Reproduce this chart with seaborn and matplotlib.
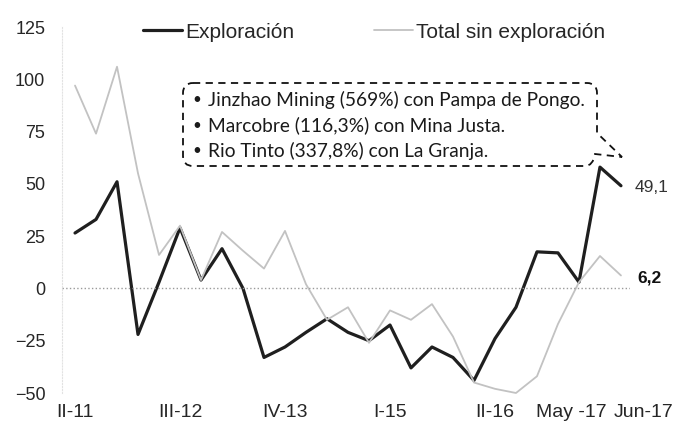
import matplotlib
matplotlib.use("Agg")
import pandas as pd
import matplotlib.pyplot as plt
import seaborn as sns
from matplotlib.path import Path
from matplotlib.patches import PathPatch
from matplotlib.lines import Line2D
from matplotlib.transforms import Affine2D, ScaledTranslation

# quarterly data II-11 .. I-17, then monthly Apr-17 .. Jun-17 (var. % anual)
periods = ["II-11", "III-11", "IV-11", "I-12", "II-12", "III-12", "IV-12",
           "I-13", "II-13", "III-13", "IV-13", "I-14", "II-14", "III-14",
           "IV-14", "I-15", "II-15", "III-15", "IV-15", "I-16", "II-16",
           "III-16", "IV-16", "I-17", "Abr-17", "May -17", "Jun-17"]
exploracion = [26.5, 33, 51, -22, 3, 29, 4, 19, 0, -33, -28, -21, -14.5, -21,
               -25, -17.5, -38, -28, -33, -44, -24, -9, 17.5, 17, 3, 58, 49.1]
total_sin_exploracion = [97, 74, 106, 55, 16, 30, 4, 27, 18, 9.5, 27.5, 2, -15,
                         -9, -26, -10.5, -15, -7.5, -23, -45, -48, -50, -42,
                         -17, 3, 15.5, 6.2]
tick_idx = [0, 5, 10, 15, 20, 25, 26]
y_ticks = [-50, -25, 0, 25, 50, 75, 100, 125]
callout_lines = ["Jinzhao Mining (569%) con Pampa de Pongo.",
                 "Marcobre (116,3%) con Mina Justa.",
                 "Rio Tinto (337,8%) con La Granja."]

sns.set_style("white")
plt.rcParams["font.family"] = ["Liberation Sans", "DejaVu Sans"]

W, H = 693, 429
fig = plt.figure(figsize=(W / 100, H / 100), dpi=100)
ax = fig.add_axes([62 / W, 1 - 393 / H, (630 - 62) / W, (393 - 27) / H])
# pixel helper (y measured from top) for the callout drawing
px = Affine2D().scale(1 / W, -1 / H).translate(0, 1) + fig.transFigure

df = pd.DataFrame({"idx": range(len(periods)), "periodo": periods,
                   "expl": exploracion, "total": total_sin_exploracion})

sns.lineplot(data=df, x="idx", y="expl", ax=ax, color="#1f1f1f", linewidth=2.3,
             solid_joinstyle="round", solid_capstyle="round", clip_on=False)
sns.lineplot(data=df, x="idx", y="total", ax=ax, color="#c2c2c2", linewidth=1.3,
             solid_joinstyle="round", clip_on=False)

ax.axhline(0, color="#9a9a9a", linestyle=":", linewidth=1)
ax.set_xlim(-0.62, 26.43)
ax.set_ylim(-50, 125)
ax.set_yticks(y_ticks)
ax.set_xticks(tick_idx)
ax.set_xticklabels([periods[i] for i in tick_idx])
ax.set_xlabel("")
ax.set_ylabel("")
for s in ["top", "right", "bottom"]:
    ax.spines[s].set_visible(False)
ax.spines["left"].set_color("#e2e2e2")
ax.spines["left"].set_linestyle(":")
ax.tick_params(axis="y", length=0, pad=12, labelsize=13, labelcolor="#262626")
ax.tick_params(axis="x", length=0, pad=8, labelsize=14, labelcolor="#262626")
xl = ax.get_xticklabels()
xl[-2].set_ha("right")
xl[-2].set_transform(xl[-2].get_transform() + ScaledTranslation(7 / 100, 0, fig.dpi_scale_trans))
xl[-1].set_ha("left")
xl[-1].set_transform(xl[-1].get_transform() + ScaledTranslation(-7 / 100, 0, fig.dpi_scale_trans))

# end labels
ax.annotate("49,1", xy=(26, exploracion[-1]), xytext=(10, -1), textcoords="offset points",
            va="center", ha="left", fontsize=12.5, color="#333333", annotation_clip=False)
ax.annotate("6,2", xy=(26, total_sin_exploracion[-1]), xytext=(12, -2),
            textcoords="offset points", va="center", ha="left", fontsize=12.5,
            fontweight="bold", color="#111111", annotation_clip=False)

# legend
handles = [Line2D([], [], color="#1f1f1f", lw=2.3),
           Line2D([], [], color="#c2c2c2", lw=1.3)]
fig.legend(handles, ["Exploración", "Total sin exploración"], loc="center",
           bbox_to_anchor=(374 / W, 1 - 32 / H), ncol=2, frameon=False,
           fontsize=15, handlelength=1.9, handletextpad=0.15, columnspacing=3.8,
           labelcolor="#262626")

# dashed callout with pointer
r = 10
verts = [(183 + r, 83), (597 - r, 83), (597, 83), (597, 83 + r), (597, 133),
         (622, 157), (595, 154), (593, 166), (585, 166), (183 + r, 166),
         (183, 166), (183, 166 - r), (183, 83 + r), (183, 83), (183 + r, 83)]
codes = [Path.MOVETO, Path.LINETO, Path.CURVE3, Path.CURVE3, Path.LINETO,
         Path.LINETO, Path.LINETO, Path.CURVE3, Path.CURVE3, Path.LINETO,
         Path.CURVE3, Path.CURVE3, Path.LINETO, Path.CURVE3, Path.CURVE3]
fig.patches.append(PathPatch(Path(verts, codes), transform=px, fill=False,
                             edgecolor="#111111", linewidth=1.3,
                             linestyle=(0, (4, 3))))
for i, txt in enumerate(callout_lines):
    y = 100 + i * 25.5
    fig.text(197, y, "•", transform=px, ha="center", va="center", fontsize=11,
             color="#1a1a1a", family=["Lato", "DejaVu Sans"])
    fig.text(208, y, txt, transform=px, ha="left", va="center", fontsize=13.8,
             color="#1a1a1a", family=["Lato", "DejaVu Sans"])

fig.savefig("out.png", dpi=100)
